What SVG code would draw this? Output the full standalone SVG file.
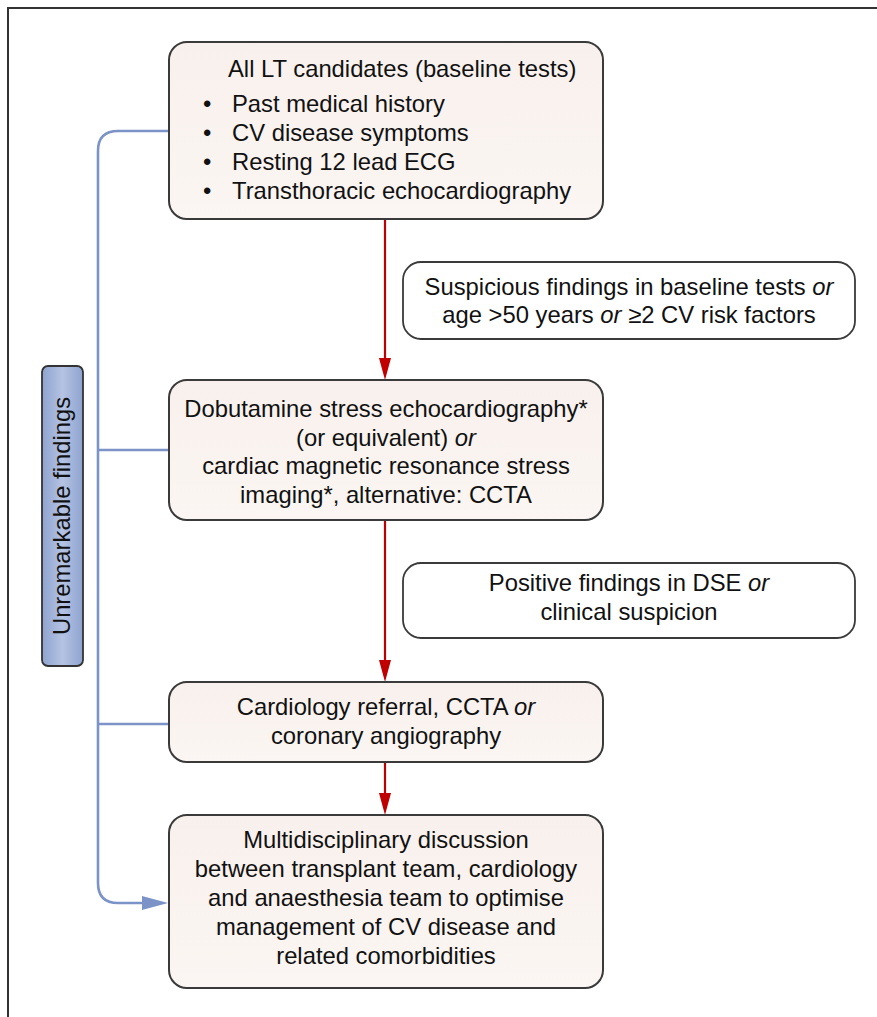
<svg xmlns="http://www.w3.org/2000/svg" width="877" height="1017" viewBox="0 0 877 1017">
<style>
text{font-family:"Liberation Sans",Arial,sans-serif;font-size:23.8px;fill:#111;}
.c{text-anchor:middle;}
.box{fill:url(#boxg);stroke:#3a3a3a;stroke-width:2;}
.note{fill:#fff;stroke:#3a3a3a;stroke-width:1.8;}
.red{stroke:#c00000;stroke-width:2.2;fill:none;}
.blue{stroke:#7b93c7;stroke-width:2.6;fill:none;}
</style>
<defs>
<linearGradient id="boxg" x1="0" y1="0" x2="0" y2="1">
<stop offset="0" stop-color="#f8f0ec"/>
<stop offset="1" stop-color="#fbf6f3"/>
</linearGradient>
<linearGradient id="legg" x1="0" y1="0" x2="1" y2="0">
<stop offset="0" stop-color="#8ea3cf"/>
<stop offset="0.5" stop-color="#b5c3e3"/>
<stop offset="1" stop-color="#8ea3cf"/>
</linearGradient>
</defs>
<rect width="877" height="1017" fill="#fff"/>
<path d="M8,1017 V8 H877" fill="none" stroke="#333" stroke-width="2"/>

<g id="connectors">
<path class="red" d="M385,220 V361" />
<path d="M379,358 L385,380 L391,358 Z" fill="#c00000"/>
<path class="red" d="M385,520 V663" />
<path d="M379,660 L385,682 L391,660 Z" fill="#c00000"/>
<path class="red" d="M385,762 V796" />
<path d="M379,793 L385,815 L391,793 Z" fill="#c00000"/>
<path class="blue" d="M170,131 H118 Q98,131 98,151 V883 Q98,903 118,903 H144"/>
<path d="M142,896 L168,903 L142,910 Z" fill="#7b93c7"/>
<path class="blue" d="M98,450 H170"/>
<path class="blue" d="M98,724 H170"/>
</g>

<g id="legend">
<rect x="42" y="366" width="41" height="300" rx="6" fill="url(#legg)" stroke="#333" stroke-width="1.8"/>
<text class="c" transform="translate(70,516) rotate(-90)">Unremarkable findings</text>
</g>

<g id="node-baseline">
<rect class="box" x="169" y="42" width="434" height="177" rx="18"/>
<text x="228" y="77">All LT candidates (baseline tests)</text>
<text x="203" y="112">•</text><text x="232" y="112">Past medical history</text>
<text x="203" y="141">•</text><text x="232" y="141">CV disease symptoms</text>
<text x="203" y="170">•</text><text x="232" y="170">Resting 12 lead ECG</text>
<text x="203" y="199">•</text><text x="232" y="199">Transthoracic echocardiography</text>
</g>

<g id="note-suspicious">
<rect class="note" x="403" y="262" width="452" height="77" rx="18"/>
<text class="c" x="629" y="295">Suspicious findings in baseline tests <tspan font-style="italic">or</tspan></text>
<text class="c" x="629" y="323">age &gt;50 years <tspan font-style="italic">or</tspan> ≥2 CV risk factors</text>
</g>

<g id="node-stress">
<rect class="box" x="169" y="380" width="434" height="140" rx="18"/>
<text class="c" x="386" y="417">Dobutamine stress echocardiography*</text>
<text class="c" x="386" y="446">(or equivalent) <tspan font-style="italic">or</tspan></text>
<text class="c" x="386" y="474">cardiac magnetic resonance stress</text>
<text class="c" x="386" y="503">imaging*, alternative: CCTA</text>
</g>

<g id="note-positive">
<rect class="note" x="403" y="563" width="452" height="75" rx="18"/>
<text class="c" x="629" y="591">Positive findings in DSE <tspan font-style="italic">or</tspan></text>
<text class="c" x="629" y="620">clinical suspicion</text>
</g>

<g id="node-cardiology">
<rect class="box" x="169" y="682" width="434" height="80" rx="18"/>
<text class="c" x="386" y="715">Cardiology referral, CCTA <tspan font-style="italic">or</tspan></text>
<text class="c" x="386" y="744">coronary angiography</text>
</g>

<g id="node-mdt">
<rect class="box" x="169" y="815" width="434" height="173" rx="18"/>
<text class="c" x="386" y="848">Multidisciplinary discussion</text>
<text class="c" x="386" y="877">between transplant team, cardiology</text>
<text class="c" x="386" y="906">and anaesthesia team to optimise</text>
<text class="c" x="386" y="935">management of CV disease and</text>
<text class="c" x="386" y="964">related comorbidities</text>
</g>
</svg>
